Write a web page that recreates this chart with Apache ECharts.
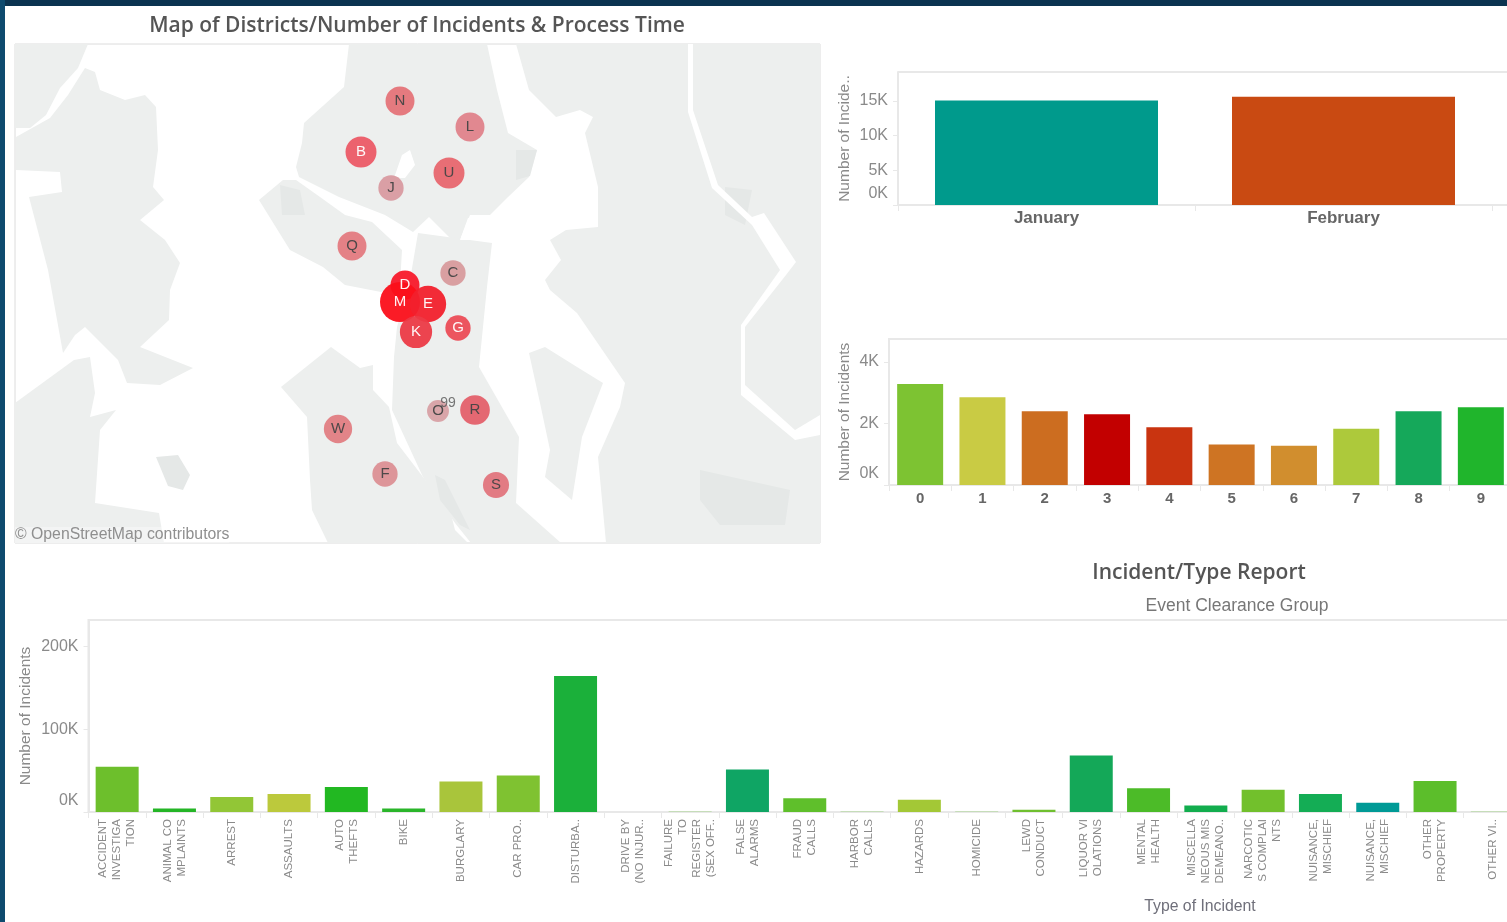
<!DOCTYPE html>
<html><head><meta charset="utf-8">
<style>html,body{margin:0;padding:0;background:#fff;overflow:hidden}#chart{width:1507px;height:922px;filter:blur(0.45px)}</style>
<script src="https://cdn.jsdelivr.net/npm/echarts@6/dist/echarts.min.js"></script>
</head><body><div id="chart"></div>
<script>
// ---- data ----
const months = ['January', 'February'];
const monthValues = [15050, 15620];
const monthTicks = [0, 5000, 10000, 15000];

const hours = ['0', '1', '2', '3', '4', '5', '6', '7', '8', '9'];
const hourValues = [3286, 2855, 2400, 2300, 1880, 1317, 1275, 1826, 2400, 2530];
const hourTicks = [0, 2000, 4000];

const incidentTypes = [
  'ACCIDENT\nINVESTIGA\nTION', 'ANIMAL CO\nMPLAINTS', 'ARREST', 'ASSAULTS', 'AUTO\nTHEFTS', 'BIKE', 'BURGLARY',
  'CAR PRO..', 'DISTURBA..', 'DRIVE BY\n(NO INJUR..', 'FAILURE\nTO\nREGISTER\n(SEX OFF..', 'FALSE\nALARMS',
  'FRAUD\nCALLS', 'HARBOR\nCALLS', 'HAZARDS', 'HOMICIDE', 'LEWD\nCONDUCT', 'LIQUOR VI\nOLATIONS', 'MENTAL\nHEALTH',
  'MISCELLA\nNEOUS MIS\nDEMEANO..', 'NARCOTIC\nS COMPLAI\nNTS', 'NUISANCE,\nMISCHIEF', 'NUISANCE,\nMISCHIEF',
  'OTHER\nPROPERTY', 'OTHER VI..'
];
const incidentValues = [54700, 4300, 18100, 21700, 30200, 4300, 37000, 44200, 164200, 100, 200, 51500, 16500, 300,
  14900, 300, 2800, 68400, 28600, 8000, 27000, 21700, 11200, 37400, 200];
const incidentTicks = [0, 100000, 200000];

const districts = ['N', 'L', 'B', 'J', 'U', 'Q', 'C', 'D', 'M', 'E', 'K', 'G', 'O', 'R', 'W', 'F', 'S'];
const districtEast =  [400, 470, 361, 391, 449, 352, 453, 405, 400, 428, 416, 458, 438, 475, 338, 385, 496];
const districtSouth = [101, 127, 152, 188, 173, 246, 273, 285, 302, 304, 332, 328, 411, 410, 429, 474, 485];
const districtIncidents = [21, 21, 24, 16, 24, 21, 16, 21, 40, 33, 26, 16, 12, 22, 20, 16, 17];
const beatLabel = ['99'];
const beatEast = [448];
const beatSouth = [403];

const land = [
  [[15,44],[88,44],[78,68],[60,88],[46,115],[30,128],[15,128]],
  [[85,68],[95,72],[100,90],[125,100],[145,95],[156,107],[158,150],[153,187],[164,200],[140,220],[165,240],[180,263],[170,290],[169,320],[140,347],[193,368],[160,385],[127,383],[118,360],[85,327],[75,335],[63,353],[48,270],[29,197],[62,192],[60,172],[16,170],[16,137],[50,118],[68,95]],
  [[15,403],[74,360],[90,357],[95,393],[90,417],[116,410],[100,430],[95,503],[159,513],[164,543],[15,543]],
  [[349,44],[487,44],[497,90],[508,133],[537,150],[529,177],[508,197],[490,215],[470,215],[460,240],[450,238],[429,217],[413,232],[385,215],[339,197],[299,177],[296,167],[302,143],[304,123],[344,87]],
  [[259,200],[283,180],[296,180],[320,197],[345,215],[372,222],[402,250],[400,285],[381,292],[345,285],[323,267],[290,250]],
  [[418,233],[492,243],[487,287],[479,367],[519,437],[516,503],[561,543],[471,543],[455,523],[423,477],[392,410],[394,357],[397,327],[410,280]],
  [[281,387],[331,347],[360,368],[373,365],[373,390],[389,407],[397,443],[423,477],[450,510],[455,530],[468,543],[328,543],[312,510],[310,480],[307,417]],
  [[529,353],[545,347],[577,367],[603,383],[582,437],[572,500],[545,477],[550,450],[540,403]],
  [[516,44],[820,44],[820,543],[606,543],[598,457],[620,407],[625,383],[577,313],[550,290],[545,280],[561,260],[550,240],[566,230],[598,227],[598,187],[585,133],[593,117],[580,110],[556,117],[529,90]]
];
const parks = [
  [[156,457],[178,455],[190,475],[183,490],[168,486]],
  [[700,470],[745,480],[790,490],[785,525],[720,525],[700,500]],
  [[435,475],[445,480],[470,530],[460,525],[440,500]],
  [[516,150],[537,150],[530,176],[516,180]],
  [[280,185],[300,190],[305,215],[282,215]],
  [[725,187],[752,190],[745,225],[725,215]]
];
const lakes = [
  [[394,178],[402,155],[410,150],[415,165],[405,178]],
  [[460,240],[468,218],[482,215],[492,228],[480,240]],
  [[688,44],[693,44],[693,110],[718,185],[752,217],[764,213],[796,262],[786,275],[745,327],[745,385],[795,430],[820,415],[820,435],[795,440],[741,395],[741,325],[780,270],[752,225],[712,188],[688,112]]
];

// ---- styling ----
const monthColors = ['#009a8c', '#c94a12'];
const hourColors = ['#7dc332', '#c9cb44', '#cc6d20', '#c20000', '#c93410', '#ce7423', '#d18e2e', '#adc93b', '#15a85a', '#20b52c'];
const incidentColors = ['#6dbf2c', '#24b526', '#92c636', '#bcc93c', '#22b822', '#2ab52a', '#a9c53b', '#7fc231', '#1bb03a',
  '#60bd2c', '#60bd2c', '#0fa564', '#5fbf2b', '#60bd2c', '#a3c836', '#60bd2c', '#6fbf2f', '#14a858', '#4cbb28', '#12ad4e',
  '#72c02c', '#14ad55', '#009a96', '#5cbe2b', '#60bd2c'];
const districtColors = ['#e57378', '#e0828a', '#ec5a66', '#d99aa0', '#e8666e', '#e47a80', '#d89a9c', '#f8192a', '#fb0f1a',
  '#f2202c', '#ec3a46', '#ec4c56', '#d8a0a4', '#e4606a', '#e27d82', '#dc8f93', '#e2747c'];
const lightLabels = ['B', 'D', 'M', 'E', 'K', 'G'];

const GREY = '#8a8a8a', AXIS = '#e8e8e8', SANS = '"Liberation Sans", Arial, sans-serif';

function polygonSeries(polys, color, z) {
  return {
    type: 'custom', xAxisIndex: 0, yAxisIndex: 0, z: z, silent: true, clip: true,
    data: polys.map((p, i) => [i]),
    encode: { x: [], y: [] },
    renderItem: (params, api) => ({
      type: 'polygon',
      shape: { points: polys[params.dataIndex].map(p => api.coord(p)) },
      style: { fill: color }
    })
  };
}
function kLabel(v) {
  return v === 0 ? '{z|0K}' : '{n|' + (v / 1000) + 'K}';
}
function valueAxis(grid, max, ticks, nameText, nameGap) {
  return {
    type: 'value', gridIndex: grid, min: 0, max: max, name: nameText, nameLocation: 'middle', nameGap: nameGap,
    nameMoveOverlap: false,
    nameTextStyle: { color: GREY, fontSize: 15.5, fontFamily: SANS },
    splitLine: { show: false },
    axisLine: { show: true, lineStyle: { color: AXIS, width: 2 } },
    axisTick: { show: true, length: 5, customValues: ticks, lineStyle: { color: AXIS } },
    axisLabel: {
      customValues: ticks, formatter: kLabel, margin: 10,
      rich: {
        n: { color: GREY, fontSize: 16, fontFamily: SANS },
        z: { color: GREY, fontSize: 16, fontFamily: SANS, padding: [0, 0, 23, 0] }
      }
    }
  };
}
function catAxis(grid, cats, label) {
  return {
    type: 'category', gridIndex: grid, data: cats,
    axisLine: { show: true, lineStyle: { color: AXIS, width: 2 } },
    axisTick: { show: true, length: 6, alignWithLabel: false, interval: 0, lineStyle: { color: AXIS } },
    axisLabel: Object.assign({ interval: 0, hideOverlap: false }, label)
  };
}
function barSeries(i, values, colors, width) {
  return {
    type: 'bar', xAxisIndex: i, yAxisIndex: i, data: values, barWidth: width, z: 3,
    itemStyle: { color: p => colors[p.dataIndex] }
  };
}

const option = {
  animation: false,
  backgroundColor: '#ffffff',
  title: [
    { text: 'Map of Districts/Number of Incidents & Process Time', left: 412, top: 11, textAlign: 'center',
      textStyle: { fontFamily: '"Open Sans"', fontSize: 21, fontWeight: 600, color: '#555' } },
    { text: 'Incident/Type Report', left: 1194, top: 558, textAlign: 'center',
      textStyle: { fontFamily: '"Open Sans"', fontSize: 21, fontWeight: 600, color: '#555' } },
    { text: 'Event Clearance Group', left: 1232, top: 592, textAlign: 'center',
      textStyle: { fontFamily: SANS, fontSize: 17.5, fontWeight: 'normal', color: '#777' } },
    { text: 'Type of Incident', left: 1195, top: 894, textAlign: 'center',
      textStyle: { fontFamily: SANS, fontSize: 15.8, fontWeight: 'normal', color: '#6f6f7a' } }
  ],
  grid: [
    { left: 15, top: 44, width: 805, height: 499, show: true, borderColor: '#dcdcdc', borderWidth: 1, backgroundColor: '#fff', outerBoundsMode: 'none' },
    { left: 898, top: 72, width: 594, height: 133, outerBoundsMode: 'none' },
    { left: 889, top: 339, width: 623, height: 146, show: true, borderColor: AXIS, borderWidth: 2, outerBoundsMode: 'none' },
    { left: 88.5, top: 620, width: 1432.5, height: 192, show: true, borderColor: AXIS, borderWidth: 2, outerBoundsMode: 'none' }
  ],
  xAxis: [
    { type: 'value', gridIndex: 0, min: 15, max: 820, show: false },
    catAxis(1, months, { color: '#666', fontSize: 17, fontWeight: 'bold', fontFamily: SANS, margin: 5 }),
    catAxis(2, hours, { color: '#666', fontSize: 15, fontWeight: 'bold', fontFamily: SANS, margin: 6 }),
    catAxis(3, incidentTypes, { color: GREY, fontSize: 11.5, lineHeight: 14, rotate: 90, fontFamily: SANS, margin: 7, width: 120 })
  ],
  yAxis: [
    { type: 'value', gridIndex: 0, min: 44, max: 543, inverse: true, show: false },
    valueAxis(1, 19170, monthTicks, 'Number of Incide..', 45),
    valueAxis(2, 4746, hourTicks, 'Number of Incidents', 36),
    valueAxis(3, 232000, incidentTicks, 'Number of Incidents', 54.5)
  ],
  series: [
    polygonSeries(land, '#edefee', 1),
    polygonSeries(parks, '#e5e8e7', 2),
    polygonSeries(lakes, '#ffffff', 3),
    {
      type: 'scatter', xAxisIndex: 0, yAxisIndex: 0, z: 5,
      data: districts.map((d, i) => ({ name: d, value: [districtEast[i], districtSouth[i], districtIncidents[i]] })),
      symbolSize: v => 2 * Math.sqrt(v[2] * 10),
      itemStyle: { color: p => districtColors[p.dataIndex], opacity: 0.95 },
      label: {
        show: true, position: 'inside', formatter: '{b}', fontFamily: SANS, fontSize: 15,
        color: '#444'
      }
    },
    {
      type: 'scatter', xAxisIndex: 0, yAxisIndex: 0, z: 6, symbolSize: 0,
      data: beatLabel.map((b, i) => ({ name: b, value: [beatEast[i], beatSouth[i]] })),
      label: { show: true, position: 'inside', formatter: '{b}', fontFamily: SANS, fontSize: 14, color: '#555' }
    },
    barSeries(1, monthValues, monthColors, 223),
    barSeries(2, hourValues, hourColors, 46),
    barSeries(3, incidentValues, incidentColors, 43)
  ],
  graphic: [
    { type: 'rect', z: 100, shape: { x: 0, y: 0, width: 1507, height: 6 }, style: { fill: '#0b3350' } },
    { type: 'rect', z: 100, shape: { x: 0, y: 0, width: 5, height: 922 }, style: { fill: '#0e4a6e' } },
    { type: 'line', z: 1, shape: { x1: 898, y1: 72, x2: 1507, y2: 72 }, style: { stroke: AXIS, lineWidth: 2 } },
    { type: 'line', z: 1, shape: { x1: 1492, y1: 205, x2: 1507, y2: 205 }, style: { stroke: AXIS, lineWidth: 2 } },
    { type: 'text', z: 100, x: 15, y: 527, style: { text: '\u00a9 OpenStreetMap contributors', fill: '#8f8f8f', fontFamily: SANS, fontSize: 15.8, backgroundColor: 'rgba(255,255,255,0.35)' } }
  ]
};
// light labels on the strongest bubbles
option.series[3].data.forEach(d => {
  if (lightLabels.includes(d.name)) d.label = { color: '#fff' };
});
const chart = echarts.init(document.getElementById('chart'), null, { renderer: 'canvas', width: 1507, height: 922 });
chart.setOption(option);
</script></body></html>
